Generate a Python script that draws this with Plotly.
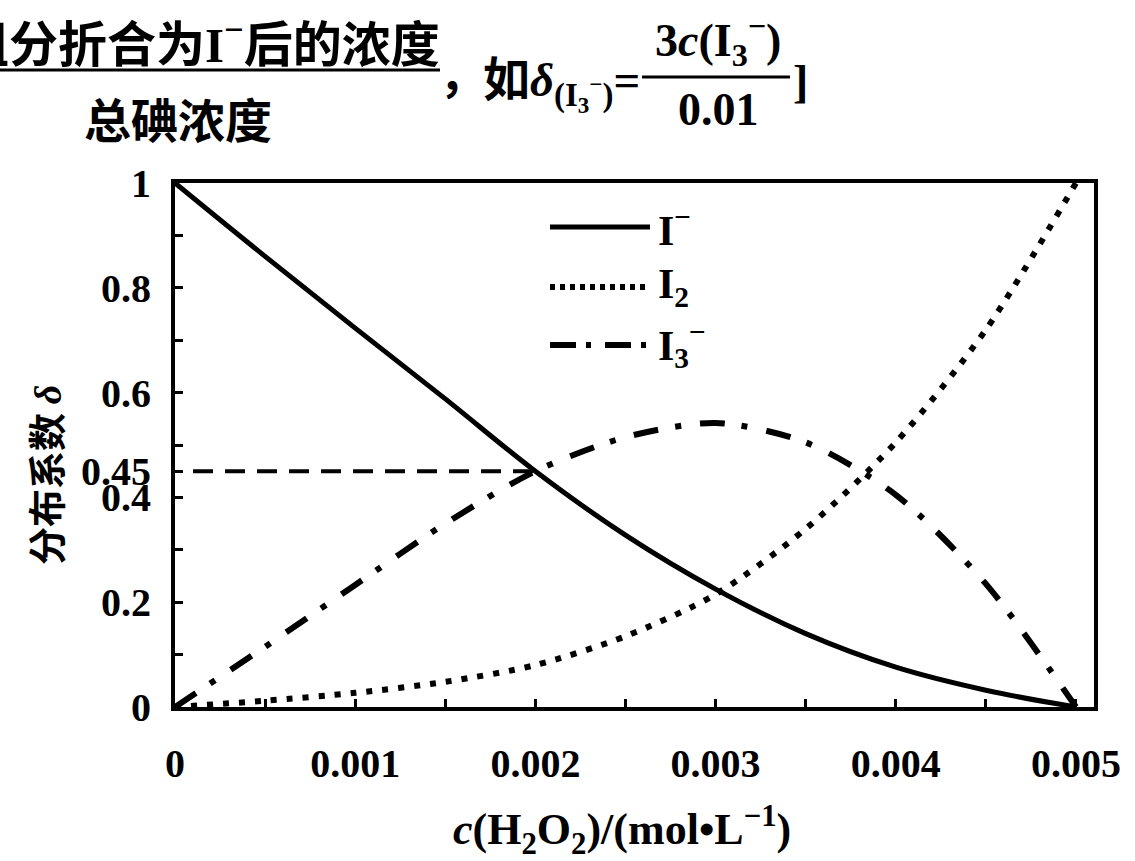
import plotly.graph_objects as go

# Concentration of H2O2 (mol/L) at which the distribution fractions are read
c_h2o2 = [0, 0.0005, 0.001, 0.0015, 0.002, 0.0025, 0.003, 0.0035, 0.004, 0.0045, 0.005]

# Distribution fractions δ of each iodine species
delta_I = [1.0, 0.86, 0.723, 0.588, 0.45, 0.328, 0.225, 0.14, 0.076, 0.032, 0.0]
delta_I2 = [0.0, 0.012, 0.027, 0.048, 0.08, 0.135, 0.215, 0.34, 0.505, 0.72, 1.0]
delta_I3 = [0.0, 0.115, 0.233, 0.35, 0.45, 0.515, 0.542, 0.505, 0.405, 0.235, 0.0]

# Guide line marking δ = 0.45 where I⁻ and I3⁻ cross
guide_x = [0.0001, 0.002]
guide_y = [0.45, 0.45]

x_ticks = [0, 0.0005, 0.001, 0.0015, 0.002, 0.0025, 0.003, 0.0035, 0.004, 0.0045, 0.005]
x_ticktext = ["0", "", "0.001", "", "0.002", "", "0.003", "", "0.004", "", "0.005"]
y_ticks = [0, 0.1, 0.2, 0.3, 0.4, 0.45, 0.5, 0.6, 0.7, 0.8, 0.9, 1]
y_ticktext = ["0", "", "0.2", "", "0.4", "0.45", "", "0.6", "", "0.8", "", "1"]

W, H = 1135, 861
L, R, T, B = 175, 41, 183, 154
PW, PH = W - L - R, H - T - B

def px(x):
    return (x - L) / PW

def py(y):
    return (H - B - y) / PH

SERIF = "Liberation Serif"
CJK = "Noto Sans CJK SC"

DOT = "6px,10px"
DASHDOT = "25px,17px,6px,19px"

fig = go.Figure()
fig.add_trace(go.Scatter(x=c_h2o2, y=delta_I, mode="lines", name="I⁻",
                         line=dict(color="black", width=5, shape="spline", smoothing=1.0)))
fig.add_trace(go.Scatter(x=c_h2o2, y=delta_I2, mode="lines", name="I2",
                         line=dict(color="black", width=6, dash=DOT, shape="spline", smoothing=0.8)))
fig.add_trace(go.Scatter(x=c_h2o2, y=delta_I3, mode="lines", name="I3⁻",
                         line=dict(color="black", width=6, dash=DASHDOT, shape="spline", smoothing=0.8)))
fig.add_trace(go.Scatter(x=guide_x, y=guide_y, mode="lines",
                         line=dict(color="black", width=4, dash="20px,12px")))

# Hand-placed legend block inside the plot
legend_rows = [
    (227, None, "I<sup>−</sup>"),
    (287, "5px,5px", "I<sub>2</sub>"),
    (345, "26px,10px,5px,14px", "I<sub>3</sub><sup>−</sup>"),
]
shapes = []
annotations = []
for y, dash, label in legend_rows:
    line = dict(color="black", width=5 if dash is None else 6)
    if dash:
        line["dash"] = dash
    shapes.append(dict(type="line", xref="paper", yref="paper",
                       x0=px(550), x1=px(650), y0=py(y), y1=py(y), line=line))
    annotations.append(dict(xref="paper", yref="paper", x=px(656), y=py(y),
                            xanchor="left", yanchor="middle", showarrow=False,
                            text=label, font=dict(family=SERIF, size=42, color="black",
                                                  weight="bold")))

# Heading formula above the chart
bold_cjk = dict(family=CJK, size=47, color="black", weight="bold")
annotations += [
    dict(xref="paper", yref="paper", x=px(442), y=py(40), xanchor="right", yanchor="middle",
         showarrow=False, font=dict(family=CJK, size=49, color="black", weight="bold"),
         text="组分折合为<span style='font-family:Liberation Serif'>I<sup>−</sup></span>后的浓度"),
    dict(xref="paper", yref="paper", x=px(178), y=py(118), xanchor="center", yanchor="middle",
         showarrow=False, font=bold_cjk, text="总碘浓度"),
    dict(xref="paper", yref="paper", x=px(462), y=py(72), xanchor="center", yanchor="middle",
         showarrow=False, font=bold_cjk, text="，"),
    dict(xref="paper", yref="paper", x=px(642), y=py(80), xanchor="right", yanchor="middle",
         showarrow=False, font=bold_cjk,
         text="如<span style='font-family:Liberation Serif'><i>δ</i><sub>(I<sub>3</sub><sup>−</sup>)</sub>=</span>"),
    dict(xref="paper", yref="paper", x=px(718), y=py(40), xanchor="center", yanchor="middle",
         showarrow=False, font=dict(family=SERIF, size=46, color="black", weight="bold"),
         text="3<i>c</i>(I<sub>3</sub><sup>−</sup>)"),
    dict(xref="paper", yref="paper", x=px(718), y=py(110), xanchor="center", yanchor="middle",
         showarrow=False, font=dict(family=SERIF, size=46, color="black", weight="bold"),
         text="0.01"),
    dict(xref="paper", yref="paper", x=px(800), y=py(82), xanchor="center", yanchor="middle",
         showarrow=False, font=dict(family=SERIF, size=46, color="black", weight="bold"), text="]"),
]
shapes += [
    dict(type="line", xref="paper", yref="paper", x0=px(-5), x1=px(440), y0=py(70), y1=py(70),
         line=dict(color="black", width=3)),
    dict(type="line", xref="paper", yref="paper", x0=px(642), x1=px(790), y0=py(77), y1=py(77),
         line=dict(color="black", width=3)),
]

# Axis titles
annotations += [
    dict(xref="paper", yref="paper", x=px(622), y=py(830), xanchor="center", yanchor="middle",
         showarrow=False, font=dict(family=SERIF, size=44, color="black", weight="bold"),
         text="<i>c</i>(H<sub>2</sub>O<sub>2</sub>)/(mol•L<sup>−1</sup>)"),
    dict(xref="paper", yref="paper", x=px(45), y=py(475), xanchor="center", yanchor="middle",
         showarrow=False, textangle=-90, font=dict(family=CJK, size=38, color="black", weight="bold"),
         text="分布系数 <span style='font-family:Liberation Serif'><i>δ</i></span>"),
]

axis_common = dict(showline=True, linecolor="black", linewidth=4, mirror=True,
                   ticks="inside", ticklen=8, tickwidth=3, tickcolor="black",
                   showgrid=False, zeroline=False,
                   tickfont=dict(family=SERIF, size=40, color="black", weight="bold"))

fig.update_layout(
    width=W, height=H, autosize=False,
    margin=dict(l=L, r=R, t=T, b=B),
    paper_bgcolor="white", plot_bgcolor="white",
    showlegend=False,
    xaxis=dict(range=[0, 0.0051], tickmode="array", tickvals=x_ticks, ticktext=x_ticktext,
               ticklabelstandoff=18, **axis_common),
    yaxis=dict(range=[0, 1], tickmode="array", tickvals=y_ticks, ticktext=y_ticktext,
               ticklabelstandoff=12, **axis_common),
    shapes=shapes, annotations=annotations,
)

fig.write_html("out.html")
